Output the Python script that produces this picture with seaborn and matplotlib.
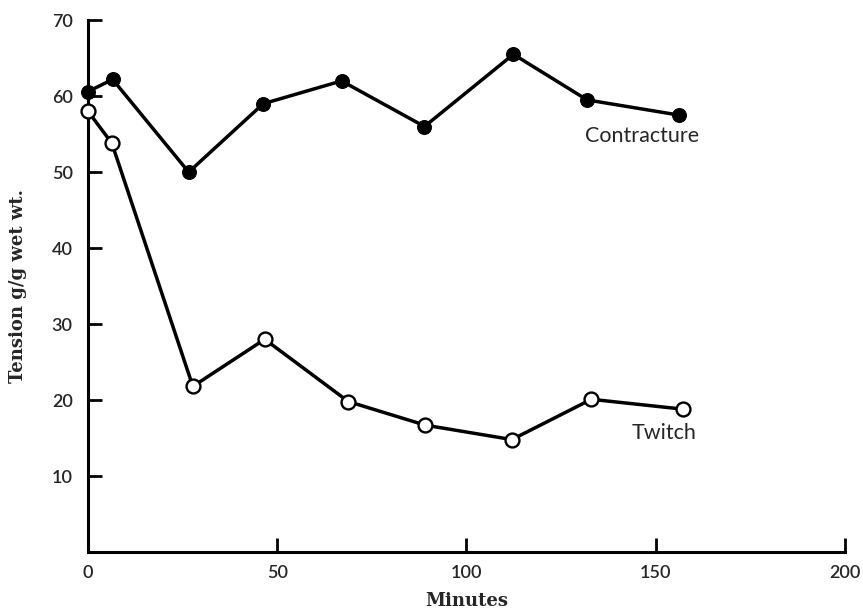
import matplotlib
matplotlib.use("Agg")
import matplotlib.pyplot as plt
import seaborn as sns
import pandas as pd

contracture_min = [0, 6.5, 26.6, 46.3, 67.0, 88.9, 112.4, 131.9, 156.2]
contracture_val = [60.6, 62.2, 50.0, 59.0, 62.0, 56.0, 65.5, 59.5, 57.5]
twitch_min = [0, 6.3, 27.7, 46.7, 68.8, 89.1, 112.0, 133.0, 157.3]
twitch_val = [58.0, 53.8, 21.8, 28.0, 19.8, 16.7, 14.8, 20.1, 18.8]
x_ticks = [0, 50, 100, 150, 200]
y_ticks = [10, 20, 30, 40, 50, 60, 70]
series_labels = ["Contracture", "Twitch"]

sns.set_theme(style="ticks")
plt.rcParams["font.family"] = ["Lato", "DejaVu Sans"]

fig = plt.figure(figsize=(8.63, 6.10), dpi=100)
ax = fig.add_axes([0.102, 0.095, 0.877, 0.872])

dc = pd.DataFrame({"Minutes": contracture_min, "Tension": contracture_val})
dt = pd.DataFrame({"Minutes": twitch_min, "Tension": twitch_val})

sns.lineplot(data=dc, x="Minutes", y="Tension", ax=ax, color="black", lw=2.5,
             marker="o", markersize=10, markerfacecolor="black",
             markeredgecolor="black", sort=False, zorder=3, clip_on=False)
sns.lineplot(data=dt, x="Minutes", y="Tension", ax=ax, color="black", lw=2.5,
             marker="o", markersize=10, markerfacecolor="white",
             markeredgecolor="black", markeredgewidth=1.7, sort=False, zorder=3,
             clip_on=False)

ax.set_xlim(0, 200)
ax.set_ylim(0, 70)
ax.set_xticks(x_ticks)
ax.set_yticks(y_ticks)
ax.tick_params(direction="in", length=10, width=2, labelsize=13, color="black")
for lab in ax.get_xticklabels() + ax.get_yticklabels():
    lab.set_fontweight("semibold")
ax.tick_params(axis="x", pad=9)
ax.tick_params(axis="y", pad=11)
for s in ["top", "right"]:
    ax.spines[s].set_visible(False)
for s in ["left", "bottom"]:
    ax.spines[s].set_linewidth(2.2)
    ax.spines[s].set_color("black")

ax.set_xlabel("Minutes", family="DejaVu Serif", fontweight="bold", fontsize=13, labelpad=8)
ax.set_ylabel("Tension g/g wet wt.", family="DejaVu Serif", fontweight="bold", fontsize=13, labelpad=18)

ax.text(146.4, 54.7, series_labels[0], ha="center", va="center", fontsize=15.5)
ax.text(152.2, 15.7, series_labels[1], ha="center", va="center", fontsize=15.5)

ax.grid(False)
fig.savefig("out.png", dpi=100)
